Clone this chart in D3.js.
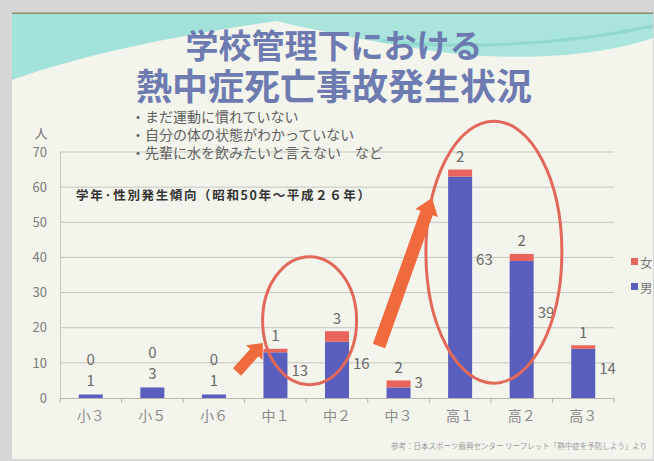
<!DOCTYPE html>
<html>
<head>
<meta charset="utf-8">
<script src="https://cdn.jsdelivr.net/npm/d3@7"></script>
<style>
  body { margin: 0; background: #d9d9d9; }
  svg { display: block; }
  text { font-family: "Noto Sans CJK JP", "Noto Sans", sans-serif; }
</style>
</head>
<body>
<script>
(function() {
    "use strict";

    //grades on the x axis, and the two stacked series
    var grades = ["小３", "小５", "小６", "中１", "中２", "中３", "高１", "高２", "高３"];
    var male = [1, 3, 1, 13, 16, 3, 63, 39, 14];
    var female = [0, 0, 0, 1, 3, 2, 2, 2, 1];
    var yTicks = [0, 10, 20, 30, 40, 50, 60, 70];
    var titleLines = ["学校管理下における", "熱中症死亡事故発生状況"];
    var bullets = ["・まだ運動に慣れていない", "・自分の体の状態がわかっていない", "・先輩に水を飲みたいと言えない　など"];

    var W = 654, H = 461;
    var BLUE = "#5a5fbd", RED = "#e9655c", ORANGE = "#ef6a3c";

    var svg = d3.select("body").append("svg")
        .attr("width", W)
        .attr("height", H);

    //photo frame and slide
    svg.append("rect").attr("width", W).attr("height", H).attr("fill", "#d6d6d6");
    svg.append("rect").attr("x", 12).attr("y", 13).attr("width", 641).attr("height", 446).attr("fill", "#f3f4ec");
    svg.append("line").attr("x1", 12).attr("x2", 653).attr("y1", 13.5).attr("y2", 13.5)
        .attr("stroke", "#8a8a6a").attr("stroke-width", 2);

    //teal swooshes at the top of the slide
    svg.append("path")
        .attr("d", "M12,14 L330,14 C230,26 100,48 12,80 Z")
        .attr("fill", "#a3e2da");
    svg.append("path")
        .attr("d", "M250,14 L653,14 L653,38 C600,56 520,62 440,52 C370,42 300,28 250,14 Z")
        .attr("fill", "#a9e4dd");
    svg.append("path")
        .attr("d", "M380,40 C450,50 560,46 653,26")
        .attr("fill", "none").attr("stroke", "#86d3cb").attr("stroke-width", 3).attr("opacity", 0.7);

    //title
    svg.selectAll("text.title")
        .data(titleLines)
        .enter()
        .append("text")
        .attr("class", "title")
        .attr("x", 334)
        .attr("y", function(d, i) { return 58 + i * 42; })
        .attr("text-anchor", "middle")
        .attr("font-size", function(d, i) { return i === 0 ? 33 : 36; })
        .attr("font-weight", "bold")
        .attr("fill", "#6d7bb1")
        .text(function(d) { return d; });

    //scales
    var x = d3.scaleBand()
        .domain(grades)
        .range([60, 614])
        .paddingInner(0.61)
        .paddingOuter(0.305);
    var y = d3.scaleLinear().domain([0, 70]).range([398, 152]);
    var step = x.step();

    //gridlines
    svg.selectAll("line.grid")
        .data(yTicks.slice(1))
        .enter()
        .append("line")
        .attr("x1", 60).attr("x2", 614)
        .attr("y1", function(d) { return y(d); })
        .attr("y2", function(d) { return y(d); })
        .attr("stroke", "#c5c6be").attr("stroke-width", 1);

    //y axis
    var yAxis = svg.append("g")
        .attr("transform", "translate(60,0)")
        .call(d3.axisLeft(y).tickValues(yTicks).tickSize(0).tickPadding(13));
    yAxis.select(".domain").attr("stroke", "#c5c6be");
    yAxis.selectAll("text").attr("font-size", 13).attr("fill", "#7a7a7a")
        .attr("font-family", "'DejaVu Sans', sans-serif");

    //x axis
    var xAxis = svg.append("g")
        .attr("transform", "translate(0,398)")
        .call(d3.axisBottom(x).tickSize(0).tickPadding(13));
    xAxis.select(".domain").attr("stroke", "#b5b6ae");
    xAxis.selectAll("text").attr("font-size", 14).attr("fill", "#8a8a8a");
    //small tick marks between the categories
    svg.selectAll("line.xtick")
        .data(d3.range(grades.length + 1))
        .enter()
        .append("line")
        .attr("x1", function(i) { return 60 + i * step; })
        .attr("x2", function(i) { return 60 + i * step; })
        .attr("y1", 398).attr("y2", 403)
        .attr("stroke", "#b5b6ae");

    //axis unit
    svg.append("text").attr("x", 41).attr("y", 138).attr("text-anchor", "middle")
        .attr("font-size", 13).attr("fill", "#777").text("人");

    //bullet notes
    svg.selectAll("text.bullet")
        .data(bullets)
        .enter()
        .append("text")
        .attr("x", 131)
        .attr("y", function(d, i) { return 122 + i * 18; })
        .attr("font-size", 14)
        .attr("fill", "#606060")
        .text(function(d) { return d; });

    //chart subtitle
    svg.append("text").attr("x", 76).attr("y", 200)
        .attr("font-size", 12.5).attr("font-weight", "bold").attr("fill", "#333")
        .attr("textLength", 294).attr("lengthAdjust", "spacing")
        .text("学年·性別発生傾向（昭和50年～平成２６年）");

    //bars: male at the bottom, female stacked on top
    var rows = grades.map(function(g, i) { return { grade: g, male: male[i], female: female[i] }; });
    var stack = d3.stack().keys(["male", "female"])(rows);
    var colors = { male: BLUE, female: RED };

    svg.selectAll("g.layer")
        .data(stack)
        .enter()
        .append("g")
        .attr("fill", function(d) { return colors[d.key]; })
        .selectAll("rect")
        .data(function(d) { return d; })
        .enter()
        .append("rect")
        .attr("x", function(d) { return x(d.data.grade); })
        .attr("y", function(d) { return y(d[1]); })
        .attr("width", x.bandwidth())
        .attr("height", function(d) { return y(d[0]) - y(d[1]); });

    //value labels
    var labels = svg.append("g")
        .attr("font-size", 15)
        .attr("fill", "#6a6a6a")
        .attr("font-family", "'DejaVu Sans', sans-serif")
        .attr("dominant-baseline", "central");

    rows.forEach(function(d) {
        var cx = x(d.grade) + x.bandwidth() / 2;
        var top = y(d.male + d.female);
        if (d.female === 0) {
            //both labels above a tiny bar
            labels.append("text").attr("x", cx).attr("y", top - 15).attr("text-anchor", "middle").text(d.male);
            labels.append("text").attr("x", cx).attr("y", top - 36).attr("text-anchor", "middle").text(d.female);
        } else {
            labels.append("text").attr("x", cx).attr("y", top - 14).attr("text-anchor", "middle").text(d.female);
            labels.append("text").attr("x", x(d.grade) + x.bandwidth() + 4)
                .attr("y", y(Math.max(d.male * 0.63, 4.6)))
                .text(d.male);
        }
    });

    //legend (at the photo's right edge)
    var legend = svg.append("g");
    [["女", RED], ["男", BLUE]].forEach(function(d, i) {
        legend.append("rect").attr("x", 631).attr("y", 258 + i * 25).attr("width", 7).attr("height", 7).attr("fill", d[1]);
        legend.append("text").attr("x", 640).attr("y", 262 + i * 25).attr("dominant-baseline", "central")
            .attr("font-size", 12.5).attr("fill", "#777").text(d[0]);
    });

    //red annotations: ellipses and arrows
    var cx1 = x("中１") + step * 0.75, cx2 = (x("高１") + x("高２") + x.bandwidth()) / 2 + 3;
    svg.append("ellipse").attr("cx", cx1).attr("cy", y(22)).attr("rx", 47).attr("ry", 64)
        .attr("fill", "none").attr("stroke", "#e2685a").attr("stroke-width", 3);
    svg.append("ellipse").attr("cx", cx2).attr("cy", y(41.5)).attr("rx", 68).attr("ry", 131)
        .attr("fill", "none").attr("stroke", "#e2685a").attr("stroke-width", 3);

    function arrow(x0, y0, x1, y1, w, hw, hl) {
        var dx = x1 - x0, dy = y1 - y0, len = Math.sqrt(dx * dx + dy * dy);
        var ux = dx / len, uy = dy / len, px = -uy, py = ux;
        var bx = x1 - ux * hl, by = y1 - uy * hl;
        var pts = [
            [x0 + px * w / 2, y0 + py * w / 2],
            [bx + px * w / 2, by + py * w / 2],
            [bx + px * hw / 2, by + py * hw / 2],
            [x1, y1],
            [bx - px * hw / 2, by - py * hw / 2],
            [bx - px * w / 2, by - py * w / 2],
            [x0 - px * w / 2, y0 - py * w / 2]
        ];
        svg.append("path").attr("d", "M" + pts.join("L") + "Z").attr("fill", ORANGE);
    }
    arrow(237, 372, 263, 343, 11, 22, 13);
    arrow(379, 346, 432, 198, 13, 24, 16);

    //source note
    svg.append("text").attr("x", 647).attr("y", 449).attr("text-anchor", "end")
        .attr("font-size", 7.5).attr("fill", "#9a9a9a")
        .text("参考：日本スポーツ振興センター リーフレット「熱中症を予防しよう」より");
}());
</script>
</body>
</html>
